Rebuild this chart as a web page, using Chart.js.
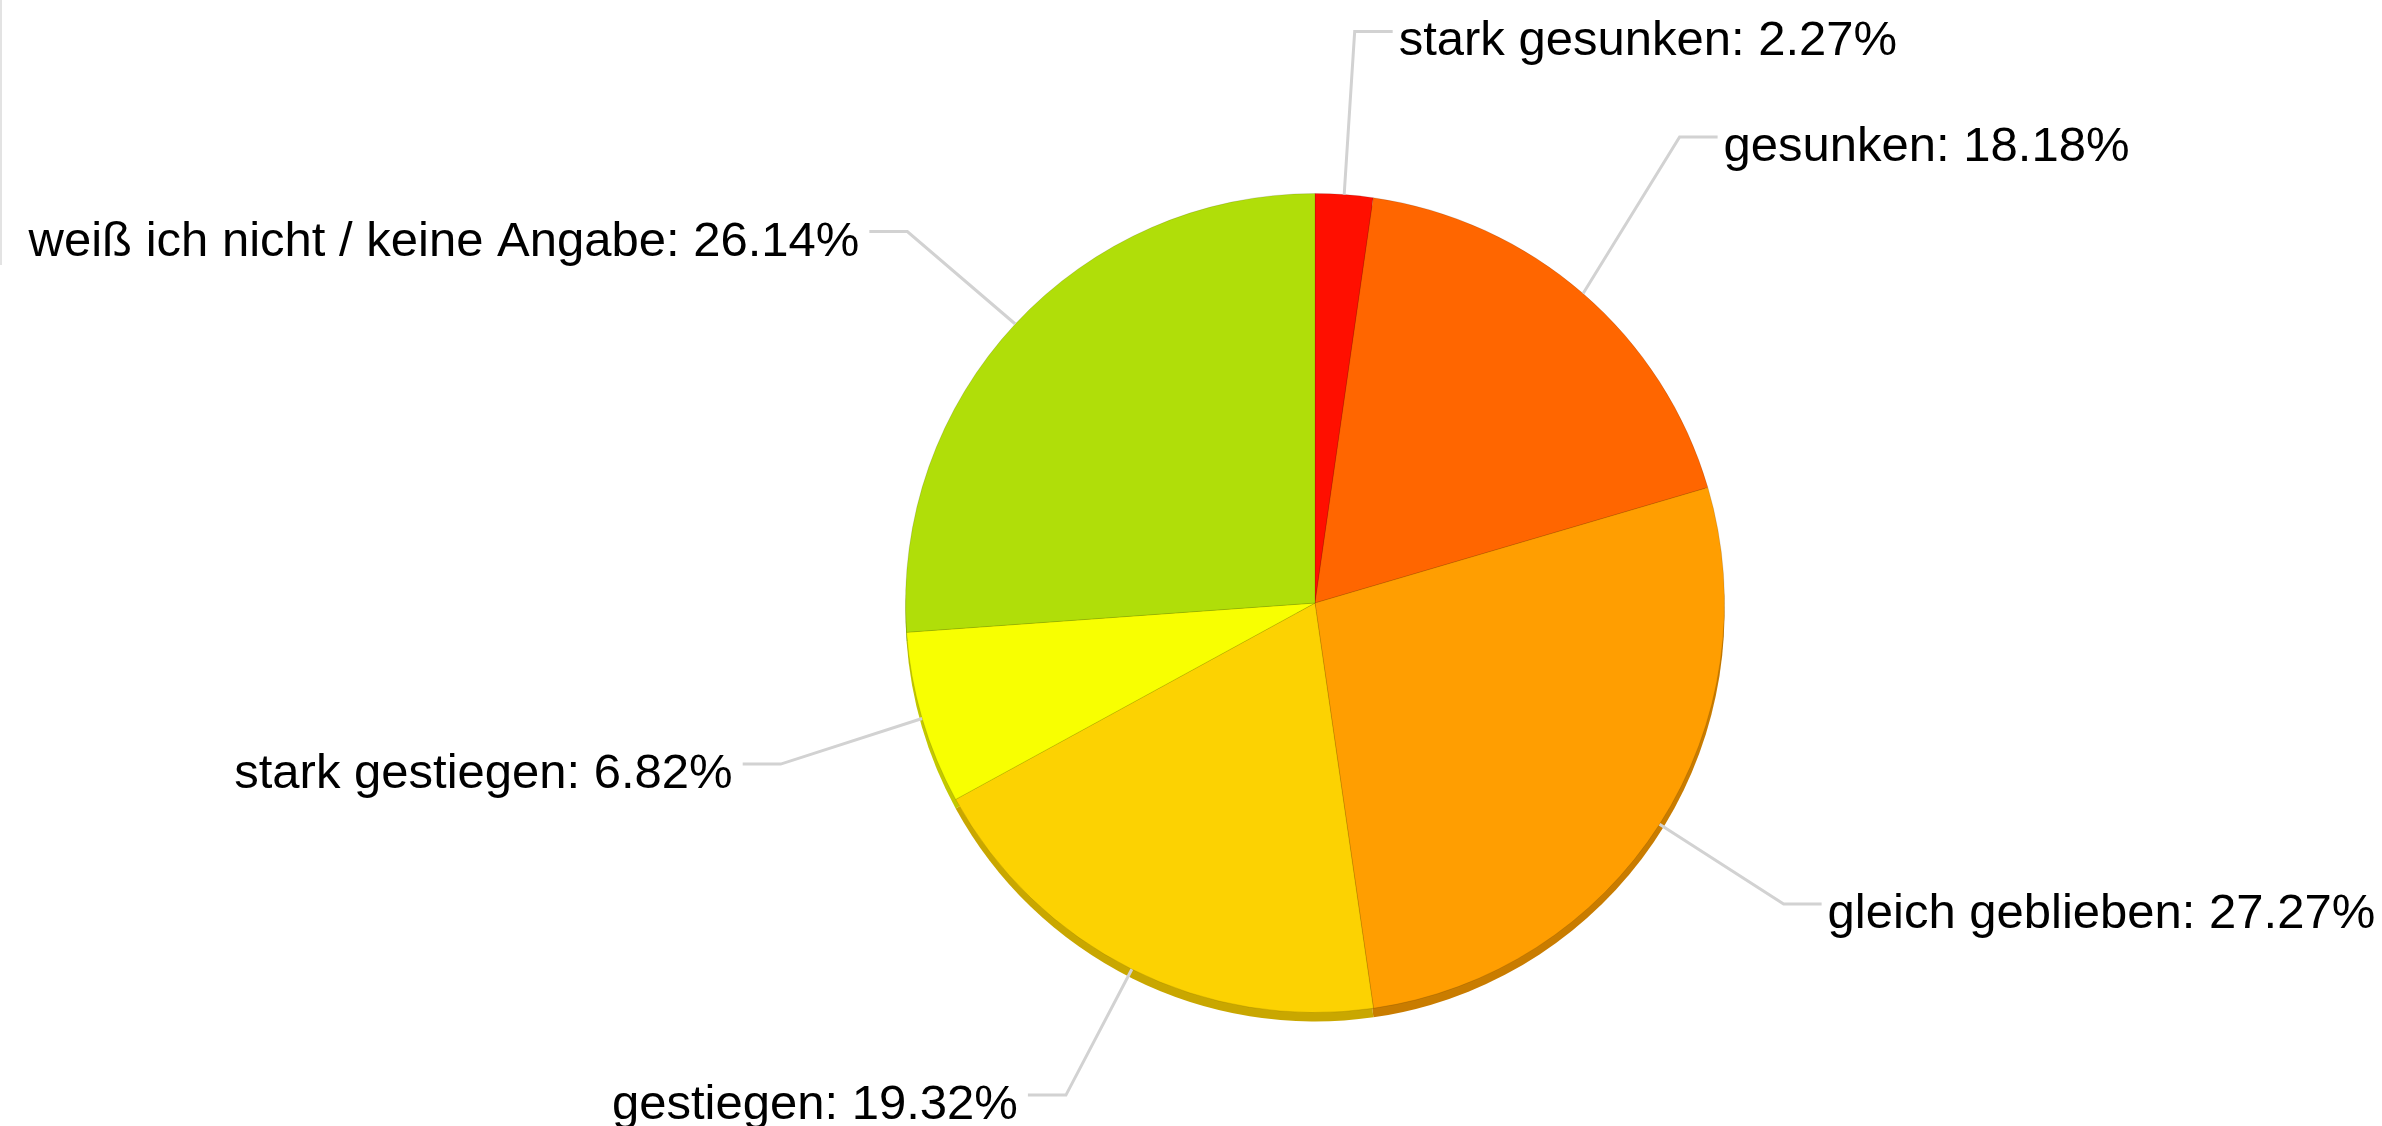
<!DOCTYPE html>
<html>
<head>
<meta charset="utf-8">
<script src="https://cdn.jsdelivr.net/npm/chart.js@4/dist/chart.umd.min.js"></script>
<style>
  html, body { margin: 0; padding: 0; background: #fff; overflow: hidden; }
  #wrap { position: relative; width: 2382px; height: 1126px; }
  #edge { position: absolute; left: 0; top: 0; width: 2px; height: 265px; background: #e3e3e3; }
</style>
</head>
<body>
<div id="wrap">
  <canvas id="pie" width="2382" height="1126"></canvas>
  <div id="edge"></div>
</div>
<script>
// survey answers, clockwise from 12 o'clock
const categories = ['stark gesunken', 'gesunken', 'gleich geblieben', 'gestiegen', 'stark gestiegen', 'weiß ich nicht / keine Angabe']
const percentages = [2.27, 18.18, 27.27, 19.32, 6.82, 26.14]
const sliceColors = ['#FF0F00', '#FF6600', '#FF9E01', '#FCD202', '#F8FF01', '#B0DE09']
const rimColors = ['#c40b00', '#c75000', '#c97c00', '#c9a700', '#c3c800', '#8aae07']
// vertical nudge of each label elbow (px), the original chart lifted the top-right ones
const labelNudge = [-16, -45, 0, -6, 4, 8]

const FONT = '49px "Liberation Sans", Arial, sans-serif'

// darker copy of every slice shifted down -> thin rim under the pie
const rimPlugin = {
  id: 'rim',
  beforeDatasetsDraw(chart) {
    const ctx = chart.ctx
    const depth = 9
    chart.getDatasetMeta(0).data.forEach((arc, i) => {
      const { x, y, startAngle, endAngle, outerRadius } = arc.getProps(['x', 'y', 'startAngle', 'endAngle', 'outerRadius'], true)
      ctx.save()
      ctx.beginPath()
      ctx.moveTo(x, y + depth)
      ctx.arc(x, y + depth, outerRadius, startAngle, endAngle)
      ctx.closePath()
      ctx.fillStyle = rimColors[i]
      ctx.fill()
      ctx.restore()
    })
  }
}

// leader lines + labels
const labelPlugin = {
  id: 'pieLabels',
  afterDatasetsDraw(chart) {
    const ctx = chart.ctx
    chart.getDatasetMeta(0).data.forEach((arc, i) => {
      const { x, y, startAngle, endAngle, outerRadius } = arc.getProps(['x', 'y', 'startAngle', 'endAngle', 'outerRadius'], true)
      const mid = (startAngle + endAngle) / 2
      const cos = Math.cos(mid)
      const sin = Math.sin(mid)
      const r2 = outerRadius * 1.36
      const right = cos >= 0
      const x0 = x + cos * outerRadius
      const y0 = y + sin * outerRadius
      const x1 = x + cos * r2
      const y1 = y + sin * r2 + labelNudge[i]
      const x2 = x1 + (right ? 38 : -38)

      ctx.save()
      ctx.strokeStyle = '#d2d2d2'
      ctx.lineWidth = 3
      ctx.beginPath()
      ctx.moveTo(x0, y0)
      ctx.lineTo(x1, y1)
      ctx.lineTo(x2, y1)
      ctx.stroke()

      ctx.font = FONT
      ctx.fillStyle = '#000'
      ctx.textAlign = right ? 'left' : 'right'
      ctx.textBaseline = 'alphabetic'
      const text = categories[i] + ': ' + percentages[i].toFixed(2) + '%'
      ctx.fillText(text, x2 + (right ? 6 : -10), y1 + 24)
      ctx.restore()
    })
  }
}

const canvas = document.getElementById('pie')
new Chart(canvas.getContext('2d'), {
  type: 'pie',
  data: {
    labels: categories,
    datasets: [{
      data: percentages,
      backgroundColor: sliceColors,
      borderColor: 'rgba(0,0,0,0.12)',
      borderWidth: 1
    }]
  },
  options: {
    responsive: false,
    animation: false,
    devicePixelRatio: 1,
    layout: {
      padding: { left: 905, right: 657, top: 193, bottom: 113 }
    },
    plugins: {
      legend: { display: false },
      tooltip: { enabled: false }
    }
  },
  plugins: [rimPlugin, labelPlugin]
})
</script>
</body>
</html>
